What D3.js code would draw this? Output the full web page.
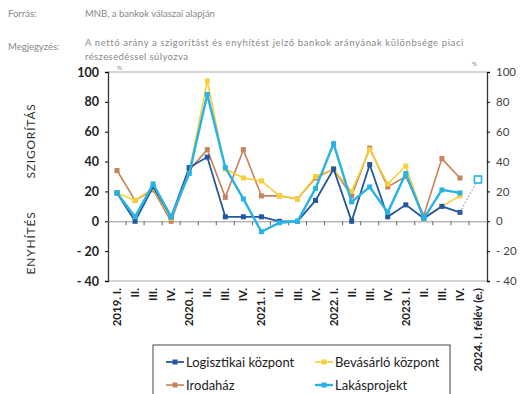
<!DOCTYPE html>
<html>
<head>
<meta charset="utf-8">
<title>Nettó arány</title>
<style>
	body { margin: 0; background: #fff; }
	text { font-family: Lato, "Open Sans", sans-serif; }
</style>
</head>
<body>
<svg id="canvas" width="521" height="394"></svg>
<script src="https://cdn.jsdelivr.net/npm/d3@7"></script>
<script>
	// categories
	let cats = ["2019. I.", "II.", "III.", "IV.", "2020. I.", "II.", "III.", "IV.",
		"2021. I.", "II.", "III.", "IV.", "2022. I.", "II.", "III.", "IV.",
		"2023. I.", "II.", "III.", "IV.", "2024. I. félév (e.)"];

	// series values (%)
	let logisztikai = [19, 0, 23, 3, 36, 43, 3, 3, 3, 0, 0, 14, 35, 0, 38, 3, 11, 2, 10, 6, null];
	let bevasarlo   = [19, 14, 22, 2, 33, 94, 35, 29, 27, 17, 15, 30, 35, 20, 48, 25, 37, 2, 10, 17, null];
	let irodahaz    = [34, 14, 21, 0, 34, 48, 16, 48, 17, 17, 15, 29, 35, 17, 49, 23, 30, 4, 42, 29, null];
	let lakas       = [19, 3, 25, 3, 32, 85, 36, 15, -7, -1, 0, 22, 52, 13, 23, 6, 32, 2, 21, 19, null];
	let lakasBecsles = 28;   // 2024. I. félév (e.)

	let yTicks = [100, 80, 60, 40, 20, 0, -20, -40];

	let series = [
		{ name: "Irodaház", values: irodahaz, color: "#c8825c", w: 1.6 },
		{ name: "Bevásárló központ", values: bevasarlo, color: "#f8cf3a", w: 1.6 },
		{ name: "Logisztikai központ", values: logisztikai, color: "#24589e", w: 1.8 },
		{ name: "Lakásprojekt", values: lakas, color: "#27b3e6", w: 2.4 }
	];

	let svg = d3.select("#canvas");
	let pLeft = 108, pRight = 487, pTop = 72, pBottom = 281;

	let x = d3.scaleBand().domain(d3.range(cats.length)).range([pLeft, pRight]);
	let y = d3.scaleLinear().domain([-40, 100]).range([pBottom, pTop]);
	let cx = i => x(i) + x.bandwidth() / 2;

	// header texts
	let head = svg.append("g").attr("fill", "#888").style("font-size", "9.5px");
	head.append("text").attr("x", 8).attr("y", 17).text("Forrás:");
	head.append("text").attr("x", 85).attr("y", 17).text("MNB, a bankok válaszai alapján");
	head.append("text").attr("x", 8).attr("y", 50).text("Megjegyzés:");
	head.append("text").attr("x", 85).attr("y", 46).style("letter-spacing", "0.6px")
		.text("A nettó arány a szigorítást és enyhítést jelző bankok arányának különbsége piaci");
	head.append("text").attr("x", 85).attr("y", 60).style("letter-spacing", "0.4px")
		.text("részesedéssel súlyozva");
	head.append("text").attr("x", 117).attr("y", 70).style("font-size", "6.5px").text("%");
	head.append("text").attr("x", 472).attr("y", 66).style("font-size", "6.5px").text("%");

	// frame
	svg.append("line").attr("x1", pLeft).attr("x2", pRight).attr("y1", pTop).attr("y2", pTop)
		.attr("stroke", "#aaa");
	svg.append("line").attr("x1", pLeft).attr("x2", pRight).attr("y1", pBottom).attr("y2", pBottom)
		.attr("stroke", "#aaa");

	let fmt = d => d < 0 ? "- " + (-d) : d;

	// left axis
	let yAxisL = svg.append("g")
		.attr("transform", "translate(" + pLeft + ",0)")
		.call(d3.axisLeft(y).tickValues(yTicks).tickSize(3).tickFormat(fmt));
	yAxisL.selectAll("text").attr("fill", "#222").style("font-size", "12.5px").style("font-weight", "bold").attr("x", -9);
	yAxisL.select(".domain").attr("stroke", "#333").attr("stroke-width", 1.3);

	// right axis
	let yAxisR = svg.append("g")
		.attr("transform", "translate(" + pRight + ",0)")
		.call(d3.axisRight(y).tickValues(yTicks).tickSize(3).tickFormat(fmt));
	yAxisR.selectAll("text").attr("fill", "#444").style("font-size", "11.5px").attr("x", 9);
	yAxisR.select(".domain").attr("stroke", "#333").attr("stroke-width", 1.3);

	// zero line with category ticks
	let xAxis = svg.append("g")
		.attr("transform", "translate(0," + y(0) + ")")
		.call(d3.axisBottom(x).tickSize(0).tickFormat(""));
	xAxis.select(".domain").attr("stroke", "#999");
	xAxis.selectAll(".cat-tick")
		.data(d3.range(1, cats.length))
		.join("line")
		.attr("x1", i => x(i)).attr("x2", i => x(i))
		.attr("y1", 0).attr("y2", 4)
		.attr("stroke", "#666");

	// category labels
	svg.append("g").selectAll("text")
		.data(cats)
		.join("text")
		.attr("transform", (d, i) => "translate(" + (cx(i) + 4) + "," + (pBottom + 7) + ") rotate(-90)")
		.attr("text-anchor", "end")
		.attr("fill", "#222")
		.style("font-size", "11.5px")
		.style("font-weight", "bold")
		.text(d => d);

	// axis titles
	svg.append("text")
		.attr("transform", "translate(35,141) rotate(-90)")
		.attr("text-anchor", "middle").attr("fill", "#333")
		.style("font-size", "12px").style("letter-spacing", "0.8px")
		.text("SZIGORÍTÁS");
	svg.append("text")
		.attr("transform", "translate(35,243) rotate(-90)")
		.attr("text-anchor", "middle").attr("fill", "#333")
		.style("font-size", "12px").style("letter-spacing", "0.8px")
		.text("ENYHÍTÉS");

	// lines
	let line = d3.line()
		.defined(d => d != null)
		.x((d, i) => cx(i))
		.y(d => y(d));

	let plot = svg.append("g");
	series.forEach(s => {
		plot.append("path")
			.datum(s.values)
			.attr("fill", "none")
			.attr("stroke", s.color)
			.attr("stroke-width", s.w)
			.attr("d", line);
		plot.selectAll(null)
			.data(s.values.map((v, i) => ({ v, i })).filter(d => d.v != null))
			.join("rect")
			.attr("x", d => cx(d.i) - 2.5)
			.attr("y", d => y(d.v) - 2.5)
			.attr("width", 5).attr("height", 5)
			.attr("fill", s.color);
	});

	// estimate for 2024 H1
	let last = cats.length - 1;
	plot.append("line")
		.attr("x1", cx(last - 1)).attr("y1", y(logisztikai[last - 1]))
		.attr("x2", cx(last)).attr("y2", y(lakasBecsles))
		.attr("stroke", "#5a7fb0").attr("stroke-width", 1)
		.attr("stroke-dasharray", "1.5,2");
	plot.append("rect")
		.attr("x", cx(last) - 3.5).attr("y", y(lakasBecsles) - 3.5)
		.attr("width", 7).attr("height", 7)
		.attr("fill", "#fff").attr("stroke", "#27b3e6").attr("stroke-width", 1.6);

	// legend
	let lg = svg.append("g");
	lg.append("rect").attr("x", 153).attr("y", 345).attr("width", 297).attr("height", 60)
		.attr("fill", "none").attr("stroke", "#444");
	let items = [
		{ s: series[2], x: 166, y: 362 },
		{ s: series[1], x: 315, y: 362 },
		{ s: series[0], x: 166, y: 385 },
		{ s: series[3], x: 315, y: 385 }
	];
	items.forEach(it => {
		lg.append("line").attr("x1", it.x).attr("x2", it.x + 18).attr("y1", it.y).attr("y2", it.y)
			.attr("stroke", it.s.color).attr("stroke-width", it.s.w);
		lg.append("rect").attr("x", it.x + 6.5).attr("y", it.y - 2.5).attr("width", 5).attr("height", 5)
			.attr("fill", it.s.color);
		lg.append("text").attr("x", it.x + 20).attr("y", it.y + 4.5)
			.attr("fill", "#222").style("font-size", "13px")
			.text(it.s.name);
	});
</script>
</body>
</html>
